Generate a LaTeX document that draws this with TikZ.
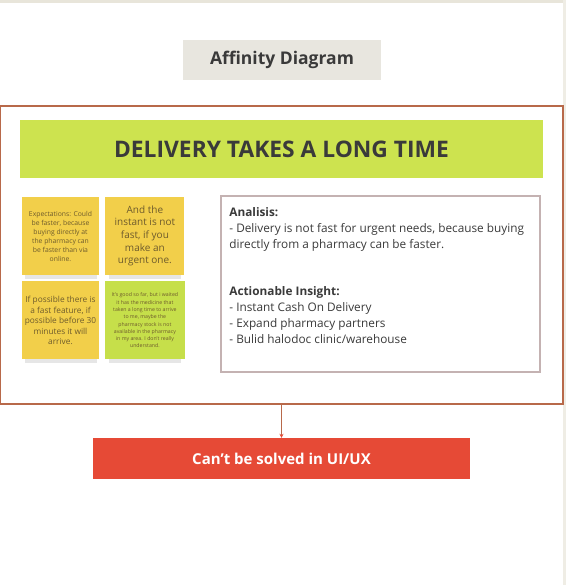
\documentclass[tikz,border=0pt]{standalone}
\usepackage{fontspec}
\setmainfont{Open Sans}
\usepackage{xcolor}
\usetikzlibrary{arrows.meta,positioning}
\definecolor{StripBeige}{HTML}{E8E5DA}
\definecolor{TitleGrey}{HTML}{E8E6DF}
\definecolor{InkDark}{HTML}{3A3A3A}
\definecolor{FrameRust}{HTML}{B8694A}
\definecolor{BannerLime}{HTML}{CDE34F}
\definecolor{NoteYellow}{HTML}{F2CF4A}
\definecolor{NoteLime}{HTML}{C6DF4A}
\definecolor{NoteInk}{HTML}{6E5B2C}
\definecolor{BoxMauve}{HTML}{C4B2B2}
\definecolor{VerdictRed}{HTML}{E64A36}

\begin{document}
\begin{tikzpicture}[
    x=1pt,y=-1pt,
    title/.style={fill=TitleGrey,text=InkDark,font=\fontsize{17.5}{21}\selectfont\bfseries,minimum width=198pt,minimum height=40pt},
    note/.style={fill=#1,text=NoteInk,align=center,inner sep=2pt,minimum height=78pt},
    insightbox/.style={draw=BoxMauve,line width=1.6pt,fill=white,minimum width=319pt,minimum height=176pt},
    verdict/.style={fill=VerdictRed,text=white,font=\fontsize{15}{18}\selectfont\bfseries,minimum width=377pt,minimum height=41pt}
  ]
  \useasboundingbox (0,0) rectangle (566,585);
  % page edges
  \fill[StripBeige] (0,0) rectangle (566,3);
  \fill[StripBeige!70] (563,0) rectangle (566,585);

  \node[title] (title) at (282,60) {Affinity Diagram};

  \node[draw=FrameRust,line width=1.6pt,minimum width=563pt,minimum height=298pt,inner sep=0pt] (frame) at (281.5,255) {};
  \node[fill=BannerLime,text=InkDark,font=\fontsize{22.8}{27}\selectfont\bfseries,minimum width=523pt,minimum height=58pt] (banner) at (281.5,149) {DELIVERY TAKES A LONG TIME};

  % sticky notes
  \foreach \s/\c in {60.5/236,144.5/236,60.5/320,145/320}
    \fill[black!22,opacity=0.45] (\s-36,\c+37) rectangle (\s+36,\c+43);
  \node[note=NoteYellow,minimum width=77pt,font=\fontsize{6.8}{9}\selectfont] (noteA) at (60.5,236)
    {Expectations: Could\\be faster, because\\buying directly at\\the pharmacy can\\be faster than via\\online.};
  \node[note=NoteYellow,minimum width=79pt,font=\fontsize{10}{12.6}\selectfont,right=6pt of noteA] (noteB)
    {And the\\instant is not\\fast, if you\\make an\\urgent one.};
  \node[note=NoteYellow,minimum width=77pt,font=\fontsize{8.3}{10.5}\selectfont,below=6pt of noteA] (noteC)
    {If possible there is\\a fast feature, if\\possible before 30\\minutes it will\\arrive.};
  \node[note=NoteLime,minimum width=80pt,font=\fontsize{5.2}{7.3}\selectfont,below=6pt of noteB] (noteD)
    {It's good so far, but i waited\\it has the medicine that\\taken a long time to arrive\\to me, maybe the\\pharmacy stock is not\\available in the pharmacy\\in my area. I don't really\\understand.};

  % analysis box
  \node[insightbox] (insight) at (380.5,284) {};
  \node[anchor=north west,inner sep=0pt,align=left,text=InkDark,font=\fontsize{11.8}{16}\selectfont,below right=12pt and 9pt of insight.north west] (insighttext)
    {\textbf{Analisis:}\\
     - Delivery is not fast for urgent needs, because buying\\
     directly from a pharmacy can be faster.\\[31pt]
     \textbf{Actionable Insight:}\\
     - Instant Cash On Delivery\\
     - Expand pharmacy partners\\
     - Bulid halodoc clinic/warehouse};

  \node[verdict] (verdict) at (281.5,458.5) {Can't be solved in UI/UX};
  \draw[FrameRust,line width=1pt,-{Stealth[length=4pt,width=4pt,color=VerdictRed]}] (frame.south) -- (verdict.north);
\end{tikzpicture}
\end{document}
